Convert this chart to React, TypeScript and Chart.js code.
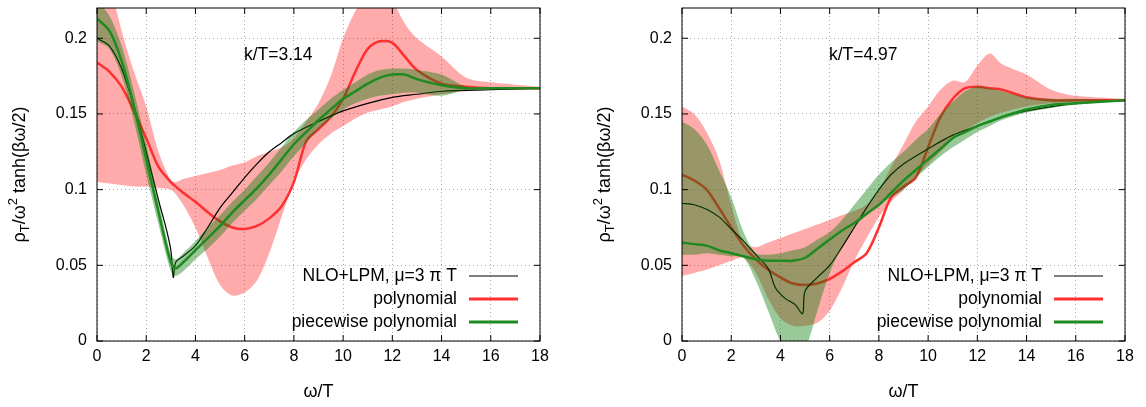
import { useEffect, useRef } from "react";
import { Chart, registerables } from "chart.js";

Chart.register(...registerables);

// ---- left panel, k/T = 3.14 ----
const leftOmega = [0, 0.5, 1, 1.5, 2, 2.5, 3, 3.2, 3.5, 4, 4.5, 5, 5.5, 6, 6.5, 7, 7.5, 8, 8.5, 9, 9.5, 10, 10.5, 11, 11.5, 12, 12.5, 13, 14, 15, 16, 18];
const leftPoly = [0.184, 0.178, 0.168, 0.152, 0.134, 0.115, 0.105, 0.102, 0.098, 0.092, 0.085, 0.079, 0.075, 0.074, 0.076, 0.081, 0.089, 0.105, 0.132, 0.14, 0.148, 0.16, 0.178, 0.193, 0.198, 0.197, 0.188, 0.179, 0.17, 0.168, 0.167, 0.167];
const leftPolyHi = [0.3, 0.24, 0.205, 0.178, 0.155, 0.125, 0.106, 0.105, 0.107, 0.109, 0.111, 0.113, 0.116, 0.118, 0.122, 0.125, 0.128, 0.134, 0.145, 0.157, 0.175, 0.2, 0.218, 0.23, 0.235, 0.225, 0.21, 0.2, 0.188, 0.174, 0.171, 0.168];
const leftPolyLo = [0.105, 0.104, 0.103, 0.102, 0.102, 0.101, 0.1, 0.097, 0.09, 0.075, 0.055, 0.037, 0.03, 0.032, 0.04, 0.058, 0.082, 0.105, 0.12, 0.13, 0.137, 0.142, 0.147, 0.151, 0.153, 0.155, 0.158, 0.16, 0.163, 0.165, 0.166, 0.166];
const leftPiece = [0.213, 0.205, 0.185, 0.155, 0.12, 0.085, 0.052, 0.048, 0.052, 0.06, 0.068, 0.076, 0.085, 0.093, 0.101, 0.11, 0.12, 0.13, 0.138, 0.146, 0.153, 0.16, 0.165, 0.17, 0.174, 0.176, 0.176, 0.173, 0.169, 0.167, 0.167, 0.167];
const leftPieceHi = [0.225, 0.215, 0.195, 0.165, 0.13, 0.093, 0.057, 0.054, 0.058, 0.066, 0.075, 0.083, 0.092, 0.1, 0.109, 0.118, 0.128, 0.138, 0.146, 0.153, 0.16, 0.166, 0.171, 0.176, 0.179, 0.18, 0.18, 0.179, 0.176, 0.168, 0.167, 0.167];
const leftPieceLo = [0.198, 0.193, 0.175, 0.145, 0.11, 0.077, 0.046, 0.043, 0.046, 0.054, 0.061, 0.069, 0.078, 0.086, 0.094, 0.103, 0.112, 0.122, 0.131, 0.14, 0.147, 0.153, 0.157, 0.16, 0.162, 0.163, 0.164, 0.164, 0.162, 0.166, 0.167, 0.167];
const leftNloOmega = [0, 0.5, 1, 1.5, 2, 2.5, 2.8, 3.0, 3.1, 3.2, 3.5, 4, 4.5, 5, 5.5, 6, 6.5, 7, 7.5, 8, 9, 10, 11, 12, 13, 14, 16, 18];
const leftNlo = [0.2, 0.195, 0.18, 0.155, 0.125, 0.093, 0.075, 0.06, 0.042, 0.052, 0.056, 0.063, 0.075, 0.088, 0.098, 0.108, 0.117, 0.125, 0.131, 0.137, 0.145, 0.152, 0.157, 0.161, 0.163, 0.165, 0.166, 0.167];

// ---- right panel, k/T = 4.97 ----
const rightOmega = [0, 0.5, 1, 1.5, 2, 2.5, 3, 3.5, 4, 4.5, 5, 5.5, 6, 6.5, 7, 7.5, 8, 8.5, 9, 9.5, 10, 10.5, 11, 11.5, 12, 12.5, 13, 14, 15, 16, 18];
const rightPoly = [0.11, 0.106, 0.1, 0.088, 0.075, 0.063, 0.054, 0.047, 0.042, 0.038, 0.037, 0.038, 0.041, 0.046, 0.052, 0.058, 0.075, 0.095, 0.102, 0.108, 0.128, 0.148, 0.16, 0.167, 0.168, 0.167, 0.166, 0.161, 0.159, 0.159, 0.159];
const rightPolyHi = [0.155, 0.15, 0.138, 0.12, 0.09, 0.065, 0.062, 0.065, 0.068, 0.071, 0.074, 0.077, 0.08, 0.083, 0.086, 0.09, 0.1, 0.115, 0.13, 0.145, 0.155, 0.166, 0.172, 0.171, 0.182, 0.19, 0.183, 0.176, 0.166, 0.162, 0.16];
const rightPolyLo = [0.043, 0.045, 0.047, 0.05, 0.053, 0.055, 0.045, 0.028, 0.015, 0.01, 0.01, 0.012, 0.02, 0.035, 0.053, 0.068, 0.082, 0.092, 0.1, 0.108, 0.117, 0.125, 0.133, 0.139, 0.144, 0.148, 0.151, 0.155, 0.157, 0.158, 0.159];
const rightPiece = [0.065, 0.064, 0.063, 0.06, 0.058, 0.056, 0.054, 0.053, 0.053, 0.053, 0.055, 0.061, 0.067, 0.073, 0.078, 0.084, 0.09, 0.098, 0.106, 0.113, 0.12, 0.127, 0.134, 0.138, 0.142, 0.145, 0.148, 0.153, 0.156, 0.157, 0.159];
const rightPieceHi = [0.145, 0.14, 0.13, 0.113, 0.095, 0.072, 0.058, 0.057, 0.058, 0.06, 0.062, 0.067, 0.072, 0.08, 0.09, 0.1, 0.11, 0.118, 0.125, 0.133, 0.14, 0.15, 0.158, 0.165, 0.168, 0.167, 0.165, 0.161, 0.16, 0.16, 0.159];
const rightPieceLo = [0.057, 0.057, 0.058, 0.057, 0.056, 0.055, 0.04, 0.02, 0.0, -0.01, -0.005, 0.02, 0.045, 0.062, 0.075, 0.083, 0.09, 0.095, 0.1, 0.108, 0.115, 0.122, 0.128, 0.133, 0.138, 0.142, 0.146, 0.151, 0.154, 0.156, 0.159];
const rightNloOmega = [0, 0.5, 1, 1.5, 2, 2.5, 3, 3.5, 3.8, 4.2, 4.6, 4.9, 5.0, 5.5, 6, 6.5, 7, 7.5, 8, 8.5, 9, 10, 11, 12, 13, 14, 16, 18];
const rightNlo = [0.091, 0.09, 0.087, 0.082, 0.074, 0.066, 0.057, 0.048, 0.035, 0.028, 0.024, 0.018, 0.033, 0.042, 0.05, 0.062, 0.075, 0.088, 0.1, 0.11, 0.117, 0.127, 0.136, 0.142, 0.148, 0.152, 0.157, 0.159];

const xTicks = [0, 2, 4, 6, 8, 10, 12, 14, 16, 18];
const yTicks = [0, 0.05, 0.1, 0.15, 0.2];
const legendLabels = ["NLO+LPM, μ=3 π T", "polynomial", "piecewise polynomial"];

const FONT = "'Liberation Sans', Arial, sans-serif";
const RED = "#ff3030";
const GREEN = "#1f8a1f";

const pts = (xs: number[], ys: number[]) => xs.map((x, i) => ({ x, y: ys[i] }));

interface PanelProps {
  label: string;
  omega: number[];
  poly: number[];
  polyHi: number[];
  polyLo: number[];
  piece: number[];
  pieceHi: number[];
  pieceLo: number[];
  nloOmega: number[];
  nlo: number[];
  yWidth: number;
  padRight: number;
  titleX: number;
}

function Panel(p: PanelProps) {
  const ref = useRef<HTMLCanvasElement | null>(null);

  useEffect(() => {
    if (!ref.current) return;
    const line = (data: any, color: string, width: number, order: number, fill: any = false, bg = "transparent") => ({
      data,
      borderColor: color,
      backgroundColor: bg,
      borderWidth: width,
      pointRadius: 0,
      tension: 0.3,
      fill,
      order,
    });

    const overlay = {
      id: "overlay",
      afterDraw(chart: any) {
        const { ctx, chartArea: a, scales } = chart;
        ctx.save();
        // frame and inward ticks
        ctx.strokeStyle = "#000";
        ctx.lineWidth = 1;
        ctx.strokeRect(a.left, a.top, a.right - a.left, a.bottom - a.top);
        ctx.beginPath();
        xTicks.forEach((t) => {
          const x = scales.x.getPixelForValue(t);
          ctx.moveTo(x, a.bottom); ctx.lineTo(x, a.bottom - 6);
          ctx.moveTo(x, a.top); ctx.lineTo(x, a.top + 6);
        });
        yTicks.forEach((t) => {
          const y = scales.y.getPixelForValue(t);
          ctx.moveTo(a.left, y); ctx.lineTo(a.left + 6, y);
          ctx.moveTo(a.right, y); ctx.lineTo(a.right - 6, y);
        });
        ctx.stroke();

        ctx.fillStyle = "#000";
        ctx.font = `17.5px ${FONT}`;
        ctx.textBaseline = "middle";
        ctx.textAlign = "left";
        ctx.fillText(p.label, a.left + 147, a.top + 47);

        // legend
        const colors = ["#000", RED, GREEN];
        const widths = [1.2, 3, 3];
        legendLabels.forEach((t, i) => {
          const y = a.top + 268 + i * 23;
          ctx.textAlign = "right";
          ctx.fillText(t, a.left + 360, y);
          ctx.strokeStyle = colors[i];
          ctx.lineWidth = widths[i];
          ctx.beginPath();
          ctx.moveTo(a.left + 372, y);
          ctx.lineTo(a.left + 421, y);
          ctx.stroke();
        });

        // y title with sub/superscripts
        const big = `18px ${FONT}`;
        const small = `13px ${FONT}`;
        const parts: [string, string, number][] = [
          ["ρ", big, 0], ["T", small, 5], ["/ω", big, 0], ["2", small, -7], [" tanh(βω/2)", big, 0],
        ];
        let total = 0;
        parts.forEach(([s, f]) => { ctx.font = f; total += ctx.measureText(s).width; });
        ctx.translate(p.titleX, (a.top + a.bottom) / 2);
        ctx.rotate(-Math.PI / 2);
        ctx.textAlign = "left";
        let x = -total / 2;
        parts.forEach(([s, f, dy]) => {
          ctx.font = f;
          ctx.fillText(s, x, dy);
          x += ctx.measureText(s).width;
        });
        ctx.restore();
      },
    };

    const chart = new Chart(ref.current, {
      type: "line",
      data: {
        datasets: [
          line(pts(p.omega, p.polyHi), "transparent", 0, 10, "+1", "rgba(255,0,0,0.33)"),
          line(pts(p.omega, p.polyLo), "transparent", 0, 10),
          line(pts(p.omega, p.poly), RED, 2.5, 8),
          line(pts(p.nloOmega, p.nlo), "#000", 1.2, 7),
          line(pts(p.omega, p.pieceHi), "transparent", 0, 6, "+1", "rgba(0,120,0,0.4)"),
          line(pts(p.omega, p.pieceLo), "transparent", 0, 6),
          line(pts(p.omega, p.piece), GREEN, 2.5, 1),
        ] as any,
      },
      options: {
        animation: false,
        responsive: false,
        maintainAspectRatio: false,
        layout: { padding: { top: 8, right: p.padRight, left: 0, bottom: 0 } },
        plugins: { legend: { display: false }, tooltip: { enabled: false } },
        scales: {
          x: {
            type: "linear",
            min: 0,
            max: 18,
            afterBuildTicks: (s: any) => { s.ticks = xTicks.map((v) => ({ value: v })); },
            afterFit: (s: any) => { s.height = 66; s.paddingLeft = 0; s.paddingRight = 0; },
            ticks: { color: "#000", font: { family: FONT, size: 16 }, padding: 6 },
            grid: { color: "#aaa", drawTicks: false },
            border: { display: false, dash: [1, 3] },
            title: { display: true, text: "ω/T", color: "#000", font: { family: FONT, size: 18 }, padding: { top: 2 } },
          },
          y: {
            min: 0,
            max: 0.22,
            afterBuildTicks: (s: any) => { s.ticks = yTicks.map((v) => ({ value: v })); },
            afterFit: (s: any) => { s.width = p.yWidth; s.paddingTop = 0; s.paddingBottom = 0; },
            ticks: { color: "#000", font: { family: FONT, size: 16 }, padding: 10, callback: (v: any) => String(Number(v)) },
            grid: { color: "#aaa", drawTicks: false },
            border: { display: false, dash: [1, 3] },
          },
        },
      },
      plugins: [overlay],
    });
    return () => chart.destroy();
  }, []);

  return (
    <div style={{ width: 573, height: 407 }}>
      <canvas ref={ref} width={573} height={407} style={{ width: 573, height: 407 }} />
    </div>
  );
}

export default function App() {
  useEffect(() => {
    document.body.style.margin = "0";
    document.body.style.background = "#fff";
  }, []);
  return (
    <div style={{ display: "flex", width: 1146, height: 407, background: "#fff" }}>
      <Panel label="k/T=3.14" omega={leftOmega} poly={leftPoly} polyHi={leftPolyHi} polyLo={leftPolyLo}
        piece={leftPiece} pieceHi={leftPieceHi} pieceLo={leftPieceLo} nloOmega={leftNloOmega} nlo={leftNlo}
        yWidth={97} padRight={33} titleX={20} />
      <Panel label="k/T=4.97" omega={rightOmega} poly={rightPoly} polyHi={rightPolyHi} polyLo={rightPolyLo}
        piece={rightPiece} pieceHi={rightPieceHi} pieceLo={rightPieceLo} nloOmega={rightNloOmega} nlo={rightNlo}
        yWidth={109} padRight={21} titleX={32} />
    </div>
  );
}
